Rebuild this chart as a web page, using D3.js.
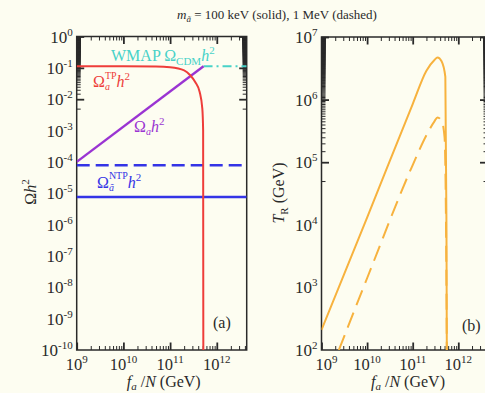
<!DOCTYPE html>
<html>
<head>
<meta charset="utf-8">
<script src="https://cdn.jsdelivr.net/npm/d3@7"></script>
<style>
  body { margin: 0; background: #fdfdf1; }
  svg { display: block; font-family: "Liberation Serif", "DejaVu Serif", serif; }
</style>
</head>
<body>
<svg width="485" height="393"></svg>
<script>
// panel (a): relic densities vs f_a/N
const tpF = [1e9, 1e10, 5e10, 1e11, 2e11, 2.7e11, 3.5e11, 4.3e11, 4.9e11, 5.1e11, 5.15e11];
const tpOmega = [0.112, 0.112, 0.11, 0.104, 0.083, 0.058, 0.034, 0.017, 0.005, 1e-3, 1e-10];
const axionF = [1e9, 5.2e11];
const axionOmega = [1e-4, 0.112];
const wmapF = [5.2e11, 4.37e12];
const wmapOmega = [0.112, 0.112];
const ntpF = [1e9, 4.37e12];
const ntpSolid = [7.6e-6, 7.6e-6];
const ntpDashed = [7.8e-5, 7.8e-5];

// panel (b): reheating temperature
const trSolidF = [1e9, 1e10, 1e11, 2e11, 3e11, 3.5e11, 4.3e11, 5.2e11, 5.5e11, 5.6e11];
const trSolid = [210, 1.3e4, 8.5e5, 2.9e6, 4.3e6, 4.7e6, 4.1e6, 2.3e6, 1e4, 100];
const trDashedF = [2.4e9, 1e10, 1e11, 2e11, 3e11, 3.5e11, 4.3e11, 5.0e11, 5.5e11, 5.6e11];
const trDashed = [100, 1.4e3, 9e4, 2.7e5, 4.5e5, 5.2e5, 4.6e5, 2.5e5, 1e3, 100];

const fTicks = [1e9, 1e10, 1e11, 1e12];
const omegaTicks = [1e0, 1e-1, 1e-2, 1e-3, 1e-4, 1e-5, 1e-6, 1e-7, 1e-8, 1e-9, 1e-10];
const trTicks = [1e2, 1e3, 1e4, 1e5, 1e6, 1e7];

const svg = d3.select("svg");
const ink = "#2a2a2a";

const boxA = { left: 76.7, right: 246.7, top: 36.5, bottom: 350 };
const boxB = { left: 321.5, right: 487.5, top: 37, bottom: 350 };

const xA = d3.scaleLog().domain([1e9, 4.37e12]).range([boxA.left, boxA.right]);
const yA = d3.scaleLog().domain([1e-10, 1]).range([boxA.bottom, boxA.top]);
const xB = d3.scaleLog().domain([1e9, 4.37e12]).range([boxB.left, boxB.right]);
const yB = d3.scaleLog().domain([1e2, 1e7]).range([boxB.bottom, boxB.top]);

const isPow = (v) => Math.abs(Math.log10(v) - Math.round(Math.log10(v))) < 1e-6;

function frame(box, x, y, id) {
  const g = svg.append("g");
  const minX = x.ticks(60).filter((v) => !isPow(v));
  const minY = y.ticks(200).filter((v) => !isPow(v));
  const majX = x.ticks(60).filter(isPow);
  const majY = y.ticks(200).filter(isPow);
  const sides = [
    [d3.axisBottom, x, `translate(0,${box.bottom})`, majX, minX],
    [d3.axisTop, x, `translate(0,${box.top})`, majX, minX],
    [d3.axisLeft, y, `translate(${box.left},0)`, majY, minY],
    [d3.axisRight, y, `translate(${box.right},0)`, majY, minY],
  ];
  sides.forEach(([fn, s, t, maj, min]) => {
    const a = g.append("g").attr("transform", t)
      .call(fn(s).tickValues(maj).tickSize(-7.5).tickFormat(() => ""));
    a.selectAll("line").attr("stroke", ink).attr("stroke-width", 1.8);
    const b = g.append("g").attr("transform", t)
      .call(fn(s).tickValues(min).tickSize(-4).tickFormat(() => ""));
    b.selectAll("line").attr("stroke", ink).attr("stroke-width", 1);
    a.select(".domain").remove();
    b.select(".domain").remove();
  });
  g.append("rect")
    .attr("x", box.left).attr("y", box.top)
    .attr("width", box.right - box.left).attr("height", box.bottom - box.top)
    .attr("fill", "none").attr("stroke", ink).attr("stroke-width", 1.5);

  svg.append("clipPath").attr("id", id).append("rect")
    .attr("x", box.left).attr("y", box.top - 2)
    .attr("width", box.right - box.left).attr("height", box.bottom - box.top + 2);
}

function powText(sel, exp) {
  sel.append("tspan").text("10");
  sel.append("tspan").attr("dy", -7).attr("font-size", 11).text(String(exp));
}

function tickLabels(box, x, y, xt, yt, dxFirst) {
  svg.append("g").selectAll("text").data(xt).join("text")
    .attr("x", (d, i) => x(d) + (i === 0 ? dxFirst : 0))
    .attr("y", 370)
    .attr("text-anchor", "middle")
    .attr("font-size", 16.5).attr("fill", ink)
    .each(function (d) { powText(d3.select(this), Math.round(Math.log10(d))); });
  svg.append("g").selectAll("text").data(yt).join("text")
    .attr("x", box.left - 4)
    .attr("y", (d) => y(d) + 6)
    .attr("text-anchor", "end")
    .attr("font-size", 17).attr("fill", ink)
    .each(function (d) { powText(d3.select(this), Math.round(Math.log10(d))); });
}

frame(boxA, xA, yA, "clipA");
frame(boxB, xB, yB, "clipB");
tickLabels(boxA, xA, yA, fTicks, omegaTicks, 0);
tickLabels(boxB, xB, yB, fTicks, trTicks, 5);

// curves
function curve(x, y, fs, vs, color, width, dash, clip, smooth) {
  const line = d3.line().x((d) => x(d[0])).y((d) => y(d[1]))
    .curve(smooth ? d3.curveMonotoneX : d3.curveLinear);
  svg.append("path")
    .datum(d3.zip(fs, vs))
    .attr("d", line)
    .attr("fill", "none")
    .attr("stroke", color)
    .attr("stroke-width", width)
    .attr("stroke-dasharray", dash)
    .attr("clip-path", `url(#${clip})`);
}

const cRed = "#ee3d3a", cPurple = "#9a34d2", cBlue = "#3434e6", cCyan = "#48d2c8", cOrange = "#f7b23e";

curve(xA, yA, ntpF, ntpDashed, cBlue, 2.4, "13,6", "clipA", false);
curve(xA, yA, ntpF, ntpSolid, cBlue, 2.4, null, "clipA", false);
curve(xA, yA, wmapF, wmapOmega, cCyan, 2, "9,4,2,4", "clipA", false);
curve(xA, yA, axionF, axionOmega, cPurple, 2.4, null, "clipA", false);
curve(xA, yA, tpF, tpOmega, cRed, 2, null, "clipA", true);

curve(xB, yB, trSolidF, trSolid, cOrange, 2, null, "clipB", true);
curve(xB, yB, trDashedF, trDashed, cOrange, 2, "16,8", "clipB", true);

// in-plot labels
const lab = svg.append("g").attr("font-size", 16);

const wmap = lab.append("text").attr("x", 111).attr("y", 61).attr("fill", cCyan);
wmap.append("tspan").text("WMAP Ω");
wmap.append("tspan").attr("dy", 4).attr("font-size", 11).text("CDM");
wmap.append("tspan").attr("dy", -4).attr("font-style", "italic").text("h");
wmap.append("tspan").attr("dy", -7).attr("font-size", 11).text("2");

const tp = lab.append("text").attr("x", 93).attr("y", 87).attr("fill", cRed);
tp.append("tspan").text("Ω");
tp.append("tspan").attr("dy", 3).attr("font-size", 10).attr("font-style", "italic").text("a");
tp.append("tspan").attr("dy", -11).attr("dx", -5).attr("font-size", 10).text("TP");
tp.append("tspan").attr("dy", 8).attr("font-style", "italic").text("h");
tp.append("tspan").attr("dy", -7).attr("font-size", 11).text("2");

const ax = lab.append("text").attr("x", 134).attr("y", 132).attr("fill", cPurple);
ax.append("tspan").text("Ω");
ax.append("tspan").attr("dy", 3).attr("font-size", 10).attr("font-style", "italic").text("a");
ax.append("tspan").attr("dy", -3).attr("font-style", "italic").text("h");
ax.append("tspan").attr("dy", -7).attr("font-size", 11).text("2");

const ntp = lab.append("text").attr("x", 97).attr("y", 188).attr("fill", cBlue);
ntp.append("tspan").text("Ω");
ntp.append("tspan").attr("dy", 3).attr("font-size", 10).attr("font-style", "italic").text("ã");
ntp.append("tspan").attr("dy", -12).attr("dx", -5).attr("font-size", 10).text("NTP");
ntp.append("tspan").attr("dy", 9).attr("font-style", "italic").text("h");
ntp.append("tspan").attr("dy", -7).attr("font-size", 11).text("2");

lab.append("text").attr("x", 213).attr("y", 328).attr("fill", ink).text("(a)");
lab.append("text").attr("x", 462).attr("y", 331).attr("fill", ink).text("(b)");

// axis titles
function fTitle(cx) {
  const t = svg.append("text").attr("x", cx).attr("y", 387)
    .attr("text-anchor", "middle").attr("font-size", 16).attr("fill", ink);
  t.append("tspan").attr("font-style", "italic").text("f");
  t.append("tspan").attr("dy", 3).attr("font-size", 11).attr("font-style", "italic").text("a");
  t.append("tspan").attr("dy", -3).text(" /");
  t.append("tspan").attr("font-style", "italic").text("N");
  t.append("tspan").text(" (GeV)");
}
fTitle((boxA.left + boxA.right) / 2 + 2);
fTitle(408);

const yt1 = svg.append("text").attr("transform", "translate(36,192) rotate(-90)")
  .attr("text-anchor", "middle").attr("font-size", 16).attr("fill", ink);
yt1.append("tspan").text("Ω");
yt1.append("tspan").attr("font-style", "italic").text("h");
yt1.append("tspan").attr("dy", -7).attr("font-size", 11).text("2");

const yt2 = svg.append("text").attr("transform", "translate(284,193) rotate(-90)")
  .attr("text-anchor", "middle").attr("font-size", 16).attr("fill", ink);
yt2.append("tspan").attr("font-style", "italic").text("T");
yt2.append("tspan").attr("dy", 4).attr("font-size", 11).text("R");
yt2.append("tspan").attr("dy", -4).text(" (GeV)");

// title
const ti = svg.append("text").attr("x", 277).attr("y", 19)
  .attr("text-anchor", "middle").attr("font-size", 13).attr("fill", ink);
ti.append("tspan").attr("font-style", "italic").text("m");
ti.append("tspan").attr("dy", 3).attr("font-size", 9).attr("font-style", "italic").text("ã");
ti.append("tspan").attr("dy", -3).text(" = 100 keV (solid), 1 MeV (dashed)");
</script>
</body>
</html>
